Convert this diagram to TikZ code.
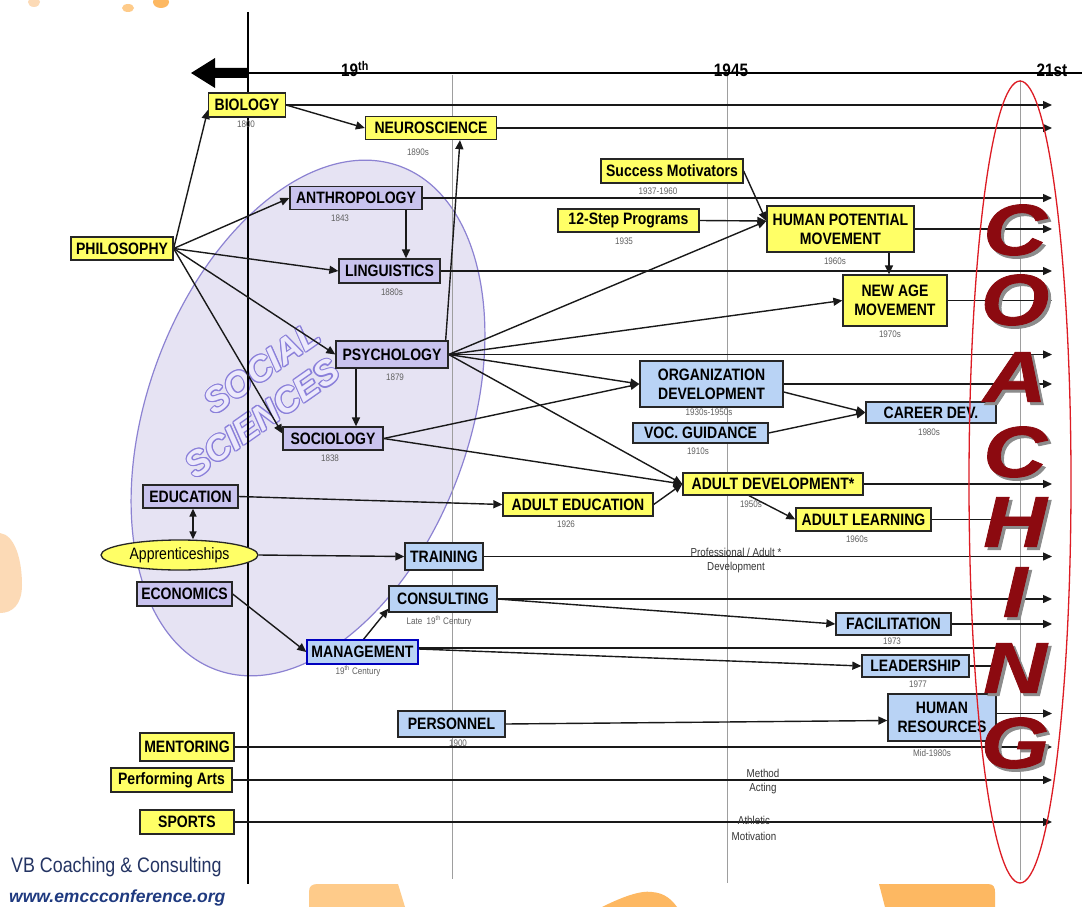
\documentclass[tikz,border=0pt]{standalone}
\usepackage{fontspec}
\setmainfont{Liberation Sans}[FakeStretch=0.85]
\newfontfamily\plainfont{Liberation Sans}
\newfontfamily\coachfont{Liberation Sans}[BoldItalicFeatures={FakeStretch=1.22,FakeBold=1.2}]
\usetikzlibrary{arrows.meta,shapes.geometric,calc}
\pgfdeclarelayer{back}
\pgfdeclarelayer{mid}
\pgfsetlayers{back,mid,main}
\definecolor{yel}{HTML}{FFFF66}
\definecolor{lav}{HTML}{C9C3EE}
\definecolor{blu}{HTML}{B9D3F5}
\definecolor{ssfill}{HTML}{E6E3F3}
\definecolor{ssline}{HTML}{8C82D2}
\definecolor{ssout}{HTML}{8A7FDA}
\definecolor{sstext}{HTML}{ECE9FB}
\definecolor{coachred}{HTML}{8C0A10}
\definecolor{ellred}{HTML}{DD1C24}
\definecolor{orpale}{HTML}{FCDAB6}
\definecolor{orlight}{HTML}{FECB8A}
\definecolor{ormid}{HTML}{FDB862}
\definecolor{navy}{HTML}{243463}
\definecolor{webblue}{HTML}{1F3A80}
\begin{document}
\begin{tikzpicture}[x=1pt,y=-1pt,
  sz/.style 2 args={minimum width=#1pt,minimum height=#2pt},
  box/.style={draw=black!85,line width=1.3pt,inner sep=1pt,align=center,
    font=\fontsize{16.5}{19}\selectfont\bfseries},
  ybox/.style={box,fill=yel},
  pbox/.style={box,fill=lav},
  bbox/.style={box,fill=blu},
  date/.style={font=\fontsize{9.5}{10}\selectfont,text=black!62,inner sep=0pt},
  note/.style={font=\fontsize{11.5}{12}\selectfont,text=black!80,inner sep=0pt},
  axl/.style={font=\fontsize{18}{18}\selectfont\bfseries,inner sep=0pt},
  ln/.style={line width=1.4pt,black!90},
  arr/.style={ln,-{Triangle[length=9pt,width=8pt]}},
  darr/.style={ln,{Triangle[length=8pt,width=7pt]}-{Triangle[length=8pt,width=7pt]}},
  gl/.style={line width=0.8pt,black!38},
  coach/.style={font=\coachfont\bfseries\itshape\fontsize{72}{72}\selectfont,inner sep=0pt,text=coachred},
  ssw/.style={font=\plainfont\bfseries\itshape\fontsize{35}{35}\selectfont,inner sep=0pt,rotate=35}
]
\useasboundingbox (0,0) rectangle (1087,907);

% ---------- background ----------
\begin{pgfonlayer}{back}
  \fill[white] (0,0) rectangle (1087,907);
  % orange decorations
  \fill[orpale] (34,2) ellipse (6pt and 5pt);
  \fill[orlight] (128,8) ellipse (6pt and 4pt);
  \fill[ormid] (161,2) ellipse (8pt and 6pt);
  \fill[orpale] (0,533) .. controls (15,535) and (22,560) .. (22,585)
     .. controls (22,605) and (12,613) .. (0,613) -- cycle;
  \fill[orlight] (309,907) -- (309,892) .. controls (309,886) and (312,884) .. (318,884)
     -- (398,884) -- (405,907) -- cycle;
  \fill[ormid] (602,907) .. controls (620,898) and (640,890) .. (652,892)
     .. controls (665,893) and (672,900) .. (677,907) -- cycle;
  \fill[ormid] (879,884) -- (988,884) .. controls (994,884) and (995,888) .. (995,892)
     -- (995,907) -- (885,907) -- cycle;
  % social sciences ellipse
  \draw[ssline,line width=1.2pt,fill=ssfill,rotate around={-20:(308,418)}]
     (308,418) ellipse (161pt and 268pt);
  % SOCIAL SCIENCES outlined text
  \foreach \a in {0,30,...,330}{
    \node[ssw,text=ssout] (soA\a) at ($(262,368)+(\a:1.1pt)$) {SOCIAL};
    \node[ssw,text=ssout] (scA\a) at ($(262,418)+(\a:1.1pt)$) {SCIENCES};
  }
  \node[ssw,text=sstext] (social) at (262,368) {SOCIAL};
  \node[ssw,text=sstext] (sciences) at (262,418) {SCIENCES};
  % timeline grid
  \draw[gl] (452,75) -- (452,879);
  \draw[gl] (727,75) -- (727,883);
  \draw[gl] (1020,80) -- (1020,880);
  \draw[line width=1.2pt] (248,12) -- (248,884);
  \draw[line width=1.2pt] (248,73) -- (1082,73);
  \fill (248,68) -- (215,68) -- (215,58) -- (191,73) -- (215,88) -- (215,78) -- (248,78) -- cycle;
\end{pgfonlayer}

% ---------- axis labels ----------
\node[axl] (t19) at (355,69) {19\textsuperscript{th}};
\node[axl] (t1945) at (731,70) {1945};
\node[axl] (t21) at (1052,70) {21st};

% ---------- nodes ----------
\node[ybox,sz={77}{24}] (bio) at (247,105) {BIOLOGY};
\node[ybox,sz={131}{23}] (neuro) at (431,128) {NEUROSCIENCE};
\node[pbox,sz={132}{23}] (anthro) at (356,198) {ANTHROPOLOGY};
\node[pbox,sz={101}{24}] (ling) at (389.5,271) {LINGUISTICS};
\node[ybox,sz={102}{23}] (phil) at (122,248.5) {PHILOSOPHY};
\node[pbox,sz={112}{27}] (psych) at (392,354.5) {PSYCHOLOGY};
\node[pbox,sz={100}{23}] (soc) at (333,438.5) {SOCIOLOGY};
\node[pbox,sz={95}{23}] (edu) at (190.5,496.5) {EDUCATION};
\node[ellipse,draw=black!85,line width=1.3pt,fill=yel,inner sep=0pt,sz={157}{30},
      font=\fontsize{16.5}{19}\selectfont] (appr) at (179.5,555) {Apprenticeships};
\node[pbox,sz={95}{24}] (econ) at (184.5,594) {ECONOMICS};
\node[bbox,sz={78}{27}] (train) at (444,556.5) {TRAINING};
\node[bbox,sz={108}{26}] (consult) at (443,599) {CONSULTING};
\node[bbox,draw=blue!75!black,sz={111}{24}] (mgmt) at (362.5,652) {MANAGEMENT};
\node[bbox,sz={107}{26}] (pers) at (451.5,724) {PERSONNEL};
\node[ybox,sz={94}{28}] (ment) at (187,747) {MENTORING};
\node[ybox,sz={121}{24}] (perf) at (171.5,780) {Performing Arts};
\node[ybox,sz={94}{24}] (sports) at (187,822) {SPORTS};
\node[ybox,sz={142}{24}] (succ) at (672,171) {Success Motivators};
\node[ybox,sz={141}{23}] (twelve) at (628.5,220.5) {12-Step Programs};
\node[ybox,sz={147}{46}] (hpm) at (840.5,229) {HUMAN POTENTIAL\\MOVEMENT};
\node[ybox,sz={104}{51}] (newage) at (895,300.5) {NEW AGE\\MOVEMENT};
\node[bbox,sz={143}{46}] (orgdev) at (711.5,384) {ORGANIZATION\\DEVELOPMENT};
\node[bbox,sz={135}{20}] (voc) at (700.5,433) {VOC. GUIDANCE};
\node[bbox,sz={130}{21}] (career) at (931,412.5) {CAREER DEV.};
\node[ybox,sz={180}{22}] (adultdev) at (773,484) {ADULT DEVELOPMENT*};
\node[ybox,sz={150}{23}] (adulted) at (578,504.5) {ADULT EDUCATION};
\node[ybox,sz={135}{23}] (adultl) at (863.5,519.5) {ADULT LEARNING};
\node[bbox,sz={115}{22}] (facil) at (893.5,624) {FACILITATION};
\node[bbox,sz={107}{22}] (lead) at (915.5,666) {LEADERSHIP};
\node[bbox,sz={108}{47}] (hr) at (942,717.5) {HUMAN\\RESOURCES};

% ---------- dates ----------
\node[date] (dbio) at (246,124) {1800};
\node[date] (dneuro) at (418,152) {1890s};
\node[date] (danthro) at (340,218) {1843};
\node[date] (dling) at (392,292) {1880s};
\node[date] (dpsych) at (395,377) {1879};
\node[date] (dsoc) at (330,458) {1838};
\node[date] (dsucc) at (658,191) {1937-1960};
\node[date] (dtwelve) at (624,241) {1935};
\node[date] (dhpm) at (835,261) {1960s};
\node[date] (dnewage) at (890,334) {1970s};
\node[date] (dorgdev) at (709,412) {1930s-1950s};
\node[date] (dvoc) at (698,451) {1910s};
\node[date] (dcareer) at (929,432) {1980s};
\node[date] (dadultdev) at (751,504) {1950s};
\node[date] (dadulted) at (566,524) {1926};
\node[date] (dadultl) at (857,539) {1960s};
\node[date] (dconsult) at (439,621) {Late\ \ 19\textsuperscript{th} Century};
\node[date] (dmgmt) at (358,671) {19\textsuperscript{th} Century};
\node[date] (dpers) at (458,743) {1900};
\node[date] (dfacil) at (892,641) {1973};
\node[date] (dlead) at (918,684) {1977};
\node[date] (dhr) at (932,753) {Mid-1980s};

% ---------- notes ----------
\node[note] (n1) at (736,552) {Professional / Adult *};
\node[note] (n2) at (736,568) {Development};
\node[note] (n3) at (763,773) {Method};
\node[note] (n4) at (763,789) {Acting};
\node[note] (n5) at (754,820) {Athletic};
\node[note] (n6) at (754,836) {Motivation};

% ---------- footer ----------
\node[anchor=west,inner sep=0pt,text=navy,font=\fontsize{21}{21}\selectfont] (vb) at (11,867) {VB Coaching \& Consulting};
\node[anchor=west,inner sep=0pt,text=webblue,font=\plainfont\bfseries\itshape\fontsize{17.5}{18}\selectfont] (web) at (9,898) {www.emccconference.org};

% ---------- connectors ----------
\coordinate (rx) at (1052,0);
\coordinate (rs) at (1000,0);
\begin{pgfonlayer}{mid}
  % philosophy
  \draw[arr] (phil.east) -- ([yshift=-5pt]bio.west);
  \draw[arr] (phil.east) -- (anthro.west);
  \draw[arr] (phil.east) -- (ling.west);
  \draw[arr] (phil.east) -- (psych.west);
  \draw[arr] (phil.east) -- ([yshift=5pt]soc.west);
  % biology / neuroscience
  \draw[arr] (bio.east) -- (neuro.west);
  \draw[arr] (bio.east) -- (bio.east -| rx);
  \draw[arr] (neuro.east) -- (neuro.east -| rx);
  % anthropology, linguistics
  \draw[arr] (anthro.east) -- (anthro.east -| rx);
  \draw[arr] ([xshift=50pt]anthro.south) -- ([xshift=50pt]anthro.south |- ling.north);
  \draw[arr] (ling.east) -- (ling.east -| rx);
  % psychology
  \draw[arr] ([xshift=-3pt]psych.north east) -- ([xshift=29pt]neuro.south);
  \draw[arr] ([xshift=-36pt]psych.south) -- ([xshift=-36pt]psych.south |- soc.north);
  \draw[arr] (psych.east) -- ([yshift=8pt]hpm.west);
  \draw[arr] (psych.east) -- (newage.west);
  \draw[arr] (psych.east) -- (psych.east -| rx);
  \draw[arr] (psych.east) -- (orgdev.west);
  \draw[arr] (psych.east) -- (adultdev.west);
  % sociology
  \draw[arr] (soc.east) -- (orgdev.west);
  \draw[arr] (soc.east) -- (adultdev.west);
  % human potential
  \draw[arr] (succ.east) -- ([yshift=8pt]hpm.west);
  \draw[arr] (twelve.east) -- ([yshift=8pt]hpm.west);
  \draw[arr] (hpm.east) -- (hpm.east -| rx);
  \draw[arr] ([xshift=48.5pt]hpm.south) -- ([xshift=48.5pt]hpm.south |- newage.north);
  \draw[arr] (newage.east) -- (newage.east -| rx);
  % organization development
  \draw[arr] (orgdev.east) -- (orgdev.east -| rx);
  \draw[arr] ([yshift=-8pt]orgdev.east) -- (career.west);
  \draw[arr] (voc.east) -- (career.west);
  % adult development
  \draw[arr] (edu.east) -- (adulted.west);
  \draw[arr] (adulted.east) -- (adultdev.west);
  \draw[arr] (adultdev.east) -- (adultdev.east -| rx);
  \draw[arr] ([xshift=-24pt]adultdev.south) -- (adultl.west);
  \draw[ln] (adultl.east) -- (adultl.east -| rs);
  % education, apprenticeships, training
  \draw[darr] ([xshift=2.5pt]edu.south) -- ([xshift=2.5pt]edu.south |- appr.north);
  \draw[arr] (appr.east) -- (train.west);
  \draw[arr] (train.east) -- (train.east -| rx);
  % economics, management, consulting
  \draw[arr] (econ.east) -- (mgmt.west);
  \draw[arr] ([xshift=1pt]mgmt.north) -- ([yshift=4pt]consult.south west);
  \draw[arr] (consult.east) -- (consult.east -| rx);
  \draw[arr] (consult.east) -- (facil.west);
  \draw[arr] (facil.east) -- (facil.east -| rx);
  \draw[ln] ([yshift=4pt]mgmt.east) -- ([yshift=4pt]mgmt.east -| rs);
  \draw[arr] ([yshift=3pt]mgmt.east) -- (lead.west);
  \draw[ln] (lead.east) -- (lead.east -| rs);
  % personnel, human resources
  \draw[arr] (pers.east) -- ([yshift=-3pt]hr.west);
  \draw[arr] ([yshift=4pt]hr.east) -- ([yshift=4pt]hr.east -| rx);
  % mentoring, arts, sports
  \draw[arr] (ment.east) -- (ment.east -| rx);
  \draw[arr] (perf.east) -- (perf.east -| rx);
  \draw[arr] (sports.east) -- (sports.east -| rx);
\end{pgfonlayer}

% ---------- COACHING ----------
\foreach \L/\yy in {C/230,O/300,A/377,C/452,H/522,I/592,N/668,G/743}{
  \node[coach,text=black!45] (sh\yy) at (1018,\yy+3) {\L};
  \node[coach] (L\yy) at (1015,\yy) {\L};
}
\draw[ellred,line width=1.3pt] (1020,482) ellipse (51pt and 401pt);
\end{tikzpicture}
\end{document}
